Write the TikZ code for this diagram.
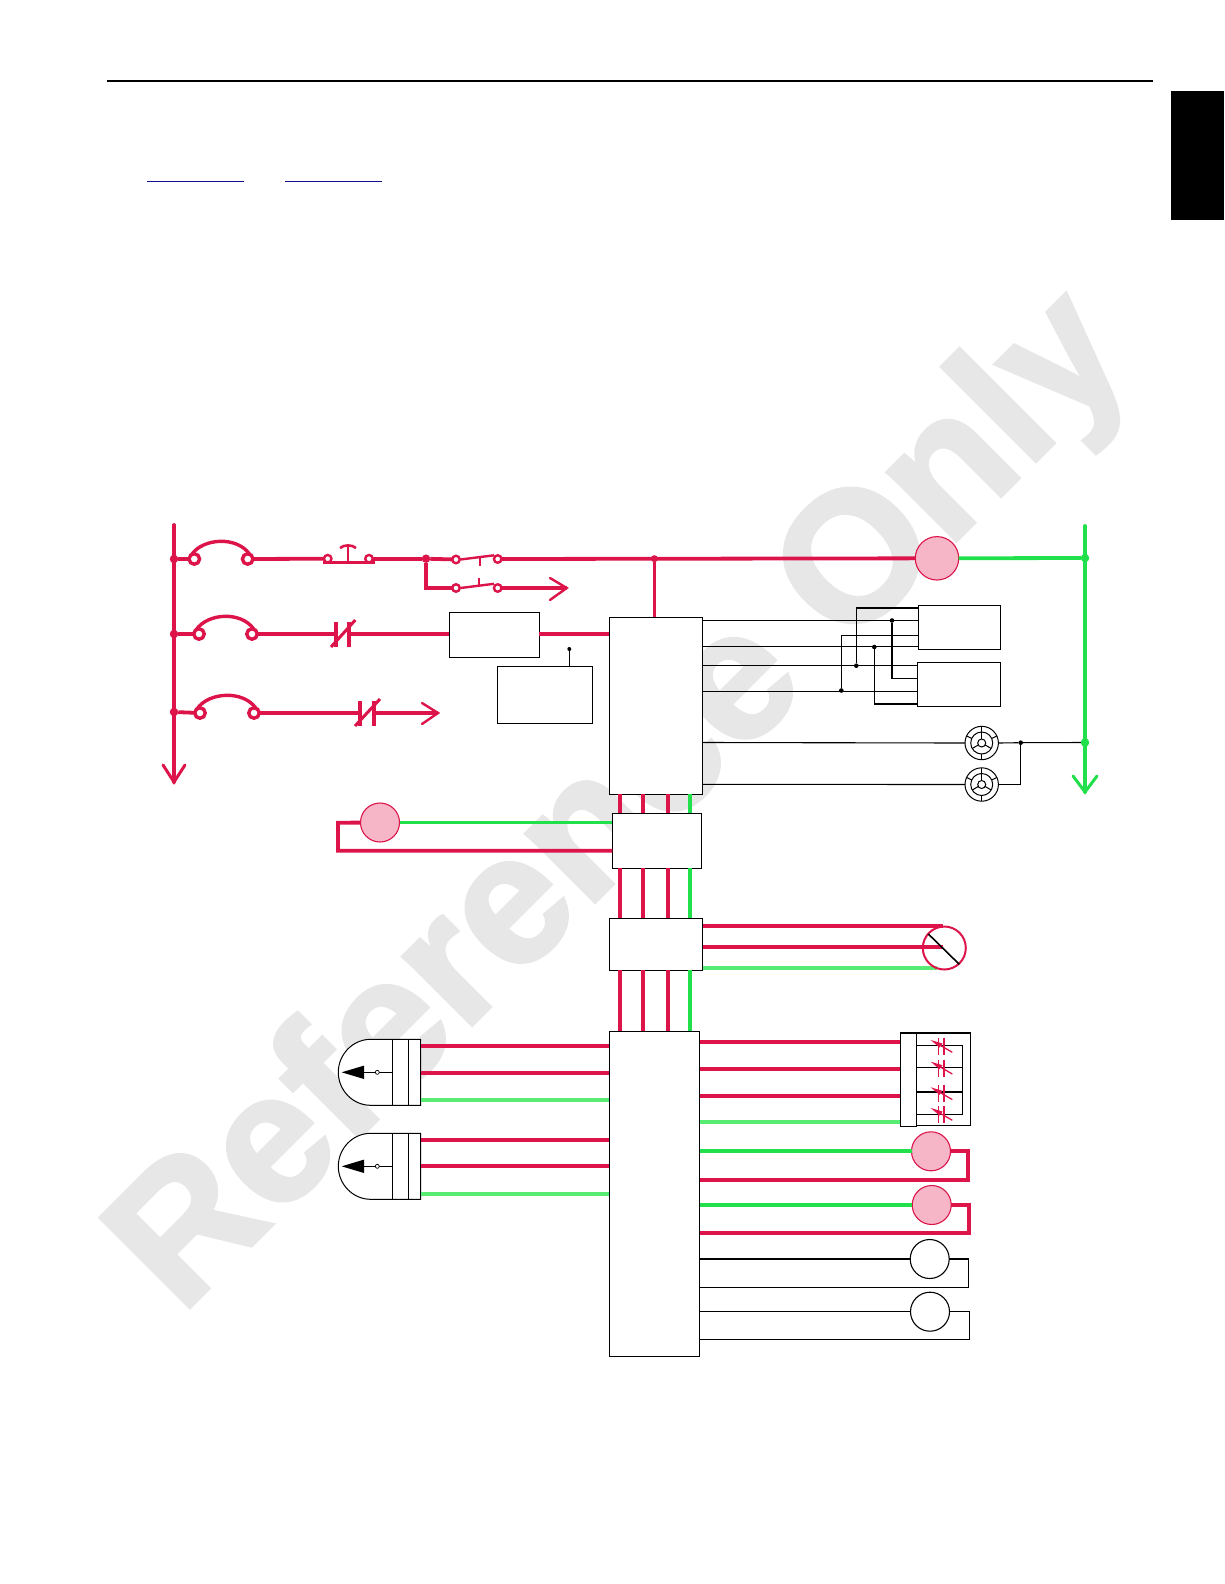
\documentclass[tikz,border=0pt]{standalone}
\usepackage{fontspec}
\setmainfont{Liberation Sans}
\newfontfamily\wmfont[BoldFeatures={FakeBold=2}]{Liberation Sans}
\definecolor{crim}{HTML}{DC1449}
\definecolor{grn}{HTML}{22E04C}
\definecolor{lgrn}{HTML}{58EC74}
\definecolor{pnk}{HTML}{F7B6C8}
\definecolor{wmk}{HTML}{E7E7E7}
\definecolor{uline}{HTML}{10108A}
\tikzset{
  pbox/.style={draw=black,line width=1pt,fill=white,rectangle,inner sep=0pt,outer sep=0pt,anchor=north west},
  redw/.style={draw=crim,line width=3.8pt},
  grnw/.style={draw=grn,line width=3.8pt},
  lgrnw/.style={draw=lgrn,line width=3.8pt},
  blkw/.style={draw=black,line width=1.1pt},
  thinr/.style={draw=crim,line width=1.3pt},
  fusec/.style={circle,draw=crim,line width=3.4pt,fill=white,minimum size=10.5pt,inner sep=0pt,outer sep=0pt},
  contc/.style={circle,draw=crim,line width=2.4pt,fill=white,minimum size=7.5pt,inner sep=0pt,outer sep=0pt},
  rdot/.style={circle,fill=crim,minimum size=8.5pt,inner sep=0pt,outer sep=0pt},
  gdot/.style={circle,fill=grn,minimum size=8.5pt,inner sep=0pt,outer sep=0pt},
  kdot/.style={circle,fill=black,minimum size=4.6pt,inner sep=0pt,outer sep=0pt},
  coil/.style={circle,draw=crim,line width=1.1pt,fill=pnk,minimum size=39pt,inner sep=0pt,outer sep=0pt},
  opencirc/.style={circle,draw=black,line width=1.1pt,fill=white,minimum size=39pt,inner sep=0pt,outer sep=0pt},
  lamp/.style={circle,draw=black,line width=1pt,fill=white,minimum size=33.4pt,inner sep=0pt,outer sep=0pt},
}
\newcommand{\pfuse}[5]{%
  \node[fusec] (#1) at (#3,#5) {};
  \node[fusec] (#2) at (#4,#5) {};
  \draw[crim,line width=3.4pt,line cap=round] (#1.120) .. controls ($(#1)+(9,-21)$) and ($(#2)+(-11,-23)$) .. (#2.70);
}
\newcommand{\ncont}[3]{%
  \draw[redw] (#1,#3-12) -- (#1,#3+13);
  \draw[redw] (#2,#3-12) -- (#2,#3+13);
  \draw[crim,line width=3pt] (#1-5,#3+13) -- (#2+6,#3-14);
}
\newcommand{\plamp}[1]{%
  \draw[black,line width=1pt] (#1) circle[radius=11];
  \draw[black,line width=1pt] (#1) circle[radius=4];
  \foreach \a/\b/\c/\d in {0/-4/0/-11, -3.5/2/-9.5/5.5, 3.5/2/9.5/5.5, 0/-11/0/-16.7, 0/11/0/16.7, -10/-4.6/-15.1/-7, 10/-4.6/15.1/-7}
    {\draw[black,line width=1pt] ($(#1)+(\a,\b)$) -- ($(#1)+(\c,\d)$);}
}
\newcommand{\trim}[1]{%
  \draw[thinr] (938.3,#1-2) -- (938.3,#1+15);
  \draw[thinr] (944,#1-2) -- (944,#1+15);
  \fill[crim] (930.7,#1) -- (942.5,#1+3.5) -- (939.5,#1+7.5) -- cycle;
  \draw[crim,line width=1.3pt] (938,#1+4) -- (952.3,#1+12.3);
}
\usetikzlibrary{calc}
\begin{document}
\begin{tikzpicture}[x=1pt,y=-1pt]
\useasboundingbox (0,0) rectangle (1224,1584);
% watermark
\node[anchor=base west,inner sep=0pt,rotate=45,text=wmk,font=\fontsize{184}{184}\wmfont\bfseries] (wm) at (181,1316) {Reference Only};
% header
\coordinate (ruleL) at (107,80.7); \coordinate (ruleR) at (1153,80.7);
\draw[black,line width=2pt] (ruleL) -- (ruleR);
\fill[black] (1171,91) rectangle (1224,220);
\coordinate (u1a) at (147,181.3); \coordinate (u1b) at (244,181.3);
\coordinate (u2a) at (285,181.3); \coordinate (u2b) at (382,181.3);
\draw[uline,line width=1.2pt] (u1a) -- (u1b);
\draw[uline,line width=1.2pt] (u2a) -- (u2b);
% boxes
\node[pbox,minimum width=93pt,minimum height=177pt] (b1) at (609,617) {};
\node[pbox,minimum width=89.4pt,minimum height=55pt] (b2) at (612.3,813.3) {};
\node[pbox,minimum width=93.4pt,minimum height=52pt] (b3) at (609.3,918.3) {};
\node[pbox,minimum width=90.7pt,minimum height=325pt] (b4) at (609,1031) {};
\node[pbox,minimum width=90pt,minimum height=45pt] (rb) at (449,612) {};
\node[pbox,minimum width=95pt,minimum height=57pt] (sb) at (497,666) {};
\node[pbox,minimum width=82pt,minimum height=44pt] (ub) at (918,605) {};
\node[pbox,minimum width=83pt,minimum height=44pt] (lb) at (917,662) {};
% left rail
\coordinate (railT) at (174,525); \coordinate (railB) at (174,782);
\draw[redw,line cap=round] (railT) -- (railB);
\draw[crim,line width=3pt,line cap=round] (163,765) -- (railB) -- (185,765);
\node[rdot] (d1) at (174,559) {};
\node[rdot] (d2) at (174,634) {};
\node[rdot] (d3) at (174,712) {};
% right rail
\coordinate (grT) at (1085,526); \coordinate (grB) at (1085,792);
\draw[grnw,line cap=round] (grT) -- (grB);
\draw[grn,line width=3pt,line cap=round] (1073,776) -- (grB) -- (1097,776);
\node[gdot] (g1) at (1085,558) {};
\node[gdot] (g2) at (1085,742.5) {};
% row 1
\pfuse{f1l}{f1r}{194.3}{247.7}{559}
\draw[redw] (d1) -- (f1l);
\node[contc] (pbl) at (327.7,558.7) {};
\node[contc] (pbr) at (369,558.7) {};
\draw[redw] (f1r) -- (pbl);
\coordinate (pbs) at (348,562.7);
\draw[crim,line width=3pt] (323,562.7) -- (375,562.7);
\draw[crim,line width=2.6pt] (pbs) -- (348,546);
\draw[crim,line width=2.6pt] (340,548) .. controls (344,544.5) and (352,544.5) .. (356,548);
\node[rdot] (j1) at (426,558.7) {};
\node[rdot,minimum size=7pt] (j2) at (654.4,558.7) {};
\node[coil,minimum size=43.4pt] (c1) at (937,558.3) {};
\node[contc] (s1l) at (456,559.5) {};
\node[contc] (s1r) at (497.7,559) {};
\node[contc] (s2l) at (456,588) {};
\node[contc] (s2r) at (497.7,588) {};
\draw[redw] (pbr) -- (j1);
\draw[redw] (j1) -- (s1l);
\draw[redw] (s1r) -- (c1);
\draw[grnw] (c1) -- (g1);
\draw[crim,line width=2.4pt] (460.5,559.5) -- (494,555.3);
\draw[crim,line width=2.4pt] (480,557) -- (480,566);
\coordinate (br) at (426,588);
\draw[redw] (j1) -- (br) -- (s2l);
\draw[crim,line width=2.4pt] (460.5,588) -- (494,583.8);
\draw[crim,line width=2.4pt] (479,578) -- (479,586);
\coordinate (tip1) at (566.7,588);
\draw[redw] (s2r) -- (tip1);
\draw[crim,line width=2.4pt,line cap=round] (550,578) -- (tip1) -- (550,600);
\draw[redw] (j2) -- (j2 |- b1.north);
% row 2
\pfuse{f2l}{f2r}{199}{252}{634}
\draw[redw] (d2) -- (f2l);
\draw[redw] (f2r) -- (336,634);
\ncont{336}{349.3}{634}
\draw[redw,line width=3.2pt] (349.3,634) -- (rb.west |- 0,634);
\draw[redw,line width=3.2pt] (rb.east |- 0,634) -- (b1.west |- 0,634);
% row 3
\pfuse{f3l}{f3r}{200}{254}{713}
\draw[redw] (d3) -- (f3l);
\draw[redw] (f3r) -- (360,713);
\ncont{360}{374}{713}
\coordinate (tip3) at (438,713);
\draw[redw] (374,713) -- (tip3);
\draw[crim,line width=2.4pt,line cap=round] (422,703) -- (tip3) -- (422,724);
% small box stub
\node[kdot,minimum size=4pt] (sd) at (569.3,649) {};
\draw[blkw] (sd) -- (sd |- sb.north);
% control wiring
\node[kdot] (k1) at (892,620.5) {};
\node[kdot] (k2) at (874.3,647) {};
\node[kdot] (k3) at (856.3,665.7) {};
\node[kdot] (k4) at (841.3,690.5) {};
\draw[blkw] (b1.east |- 0,620.3) -- (ub.west |- 0,620.3);
\draw[blkw] (b1.east |- 0,646.5) -- (ub.west |- 0,646.5);
\draw[blkw] (b1.east |- 0,665.7) -- (lb.west |- 0,665.7);
\draw[blkw] (b1.east |- 0,691.3) -- (lb.west |- 0,691.3);
\draw[blkw] (k3) |- (ub.west |- 0,608);
\draw[blkw] (k4) |- (ub.west |- 0,635.3);
\draw[blkw] (k1) |- (lb.west |- 0,678.3);
\draw[blkw] (k2) |- (lb.west |- 0,704);
% lamps
\node[lamp] (l1) at (981.7,743) {};
\node[lamp] (l2) at (981.7,784.5) {};
\plamp{l1}
\plamp{l2}
\node[kdot] (k5) at (1020.7,742.7) {};
\draw[blkw] (b1.east |- 0,742.5) -- (l1.west);
\draw[blkw] (b1.east |- 0,784.3) -- (l2.west);
\draw[blkw] (l1.east) -- (k5) -- (g2);
\draw[blkw] (l2.east) -| (k5);
% bus
\foreach \x/\st in {620/redw,643/redw,668/redw,690/grnw}{
  \draw[\st] (\x,794) -- (\x,813.3);
  \draw[\st] (\x,868.3) -- (\x,918.3);
  \draw[\st] (\x,970.3) -- (\x,1031);
}
% coil left of b2
\node[coil] (c2) at (380,822.5) {};
\coordinate (c2a) at (338,822.7);
\coordinate (c2b) at (338,850.7);
\draw[grnw] (c2) -- (b2.west |- c2);
\draw[redw] (c2) -- (c2a) -- (c2b) -- (b2.west |- c2b);
% motor at b3
\coordinate (mc) at (944.3,948);
\draw[redw] (b3.east |- 0,925.7) -- (943,925.7);
\draw[redw] (b3.east |- 0,946.7) -- (943,946.7);
\draw[lgrnw] (b3.east |- 0,968) -- (937,968);
\node[circle,draw=crim,line width=2pt,minimum size=43pt,inner sep=0pt,outer sep=0pt] (m) at (mc) {};
\draw[black,line width=1.6pt] (928.3,934) -- (959.3,964.3);
% sensors
\newcommand{\sensor}[2]{%
  \draw[black,line width=1pt,fill=white] (370.7,#2-33) .. controls (352.8,#2-33) and (338.3,#2-17.9) .. (338.3,#2) .. controls (338.3,#2+17.9) and (352.8,#2+33) .. (370.7,#2+33) -- (420.7,#2+33) -- (420.7,#2-33) -- cycle;
  \draw[blkw] (392.3,#2-33) -- (392.3,#2+33);
  \draw[blkw] (408.3,#2-33) -- (408.3,#2+33);
  \fill[black] (341.7,#2) -- (364,#2-6.7) -- (364,#2+6.7) -- cycle;
  \draw[blkw] (364,#2) -- (392.3,#2);
  \node[circle,draw=black,line width=.7pt,fill=white,minimum size=4pt,inner sep=0pt] (#1) at (377.3,#2) {};
  \coordinate (#1e) at (420.7,#2);
}
\sensor{sa}{1072.3}
\sensor{sb2}{1166.3}
\draw[redw] (sae |- 0,1045.7) -- (b4.west |- 0,1045.7);
\draw[redw] (sae |- 0,1072.7) -- (b4.west |- 0,1072.7);
\draw[lgrnw] (sae |- 0,1100) -- (b4.west |- 0,1100);
\draw[redw] (sb2e |- 0,1140) -- (b4.west |- 0,1140);
\draw[redw] (sb2e |- 0,1166) -- (b4.west |- 0,1166);
\draw[lgrnw] (sb2e |- 0,1193.7) -- (b4.west |- 0,1193.7);
% trimmer block
\draw[blkw] (900.3,1033) rectangle (970.3,1125.5);
\node[pbox,minimum width=16pt,minimum height=93pt] (tb) at (900.3,1033) {};
\draw[blkw] (916.3,1045.3) -- (962.3,1045.3) -- (962.3,1114.3) -- (916.3,1114.3);
\draw[blkw] (916.3,1067.3) -- (962.3,1067.3);
\draw[blkw] (916.3,1092) -- (962.3,1092);
\trim{1040}
\trim{1061.7}
\trim{1087.3}
\trim{1108}
\draw[redw] (b4.east |- 0,1042) -- (tb.west |- 0,1042);
\draw[redw] (b4.east |- 0,1069) -- (tb.west |- 0,1069);
\draw[redw] (b4.east |- 0,1096) -- (tb.west |- 0,1096);
\draw[lgrnw] (b4.east |- 0,1121.7) -- (tb.west |- 0,1121.7);
% coils right of b4
\node[coil] (c3) at (931,1151.3) {};
\node[coil] (c4) at (931.7,1205) {};
\draw[grnw] (b4.east |- c3) -- (c3);
\draw[redw] (c3) -- (968,1151.3) -- (968,1180) -- (b4.east |- 0,1180);
\draw[grnw] (b4.east |- c4) -- (c4);
\draw[redw] (c4) -- (969,1205) -- (969,1233) -- (b4.east |- 0,1233);
% open circles
\node[opencirc] (o1) at (929.7,1259) {};
\node[opencirc] (o2) at (930,1311.7) {};
\draw[blkw] (b4.east |- o1) -- (o1);
\draw[blkw] (o1) -- (968.3,1259) -- (968.3,1287.3) -- (b4.east |- 0,1287.3);
\draw[blkw] (b4.east |- o2) -- (o2);
\draw[blkw] (o2) -- (969.3,1311.7) -- (969.3,1339.3) -- (b4.east |- 0,1339.3);
\end{tikzpicture}
\end{document}
